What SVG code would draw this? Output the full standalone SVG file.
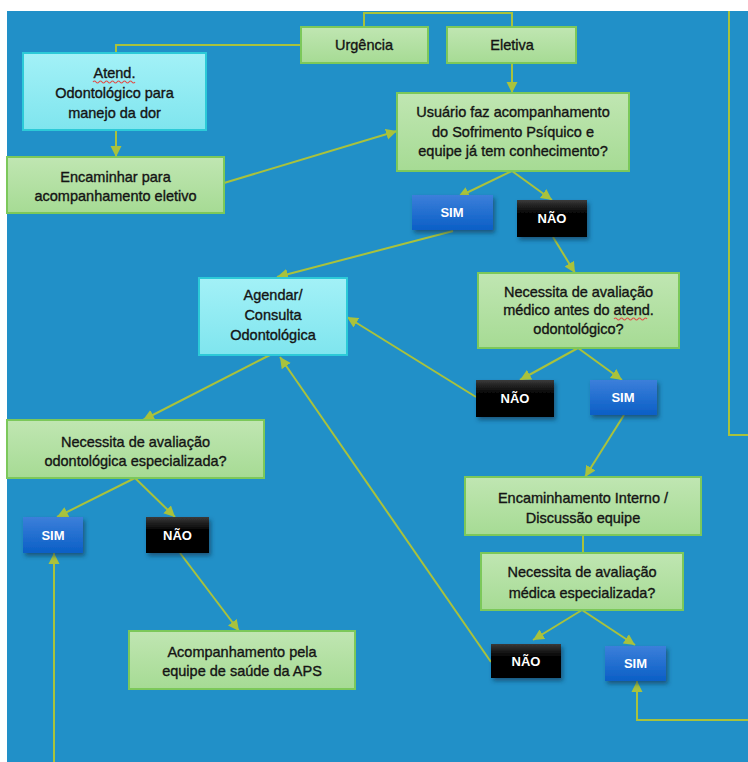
<svg xmlns="http://www.w3.org/2000/svg" width="748" height="762" viewBox="0 0 748 762">
<defs>
<style>
.g{fill:url(#gg);stroke:#7cc85a;stroke-width:2}
.c{fill:url(#cg);stroke:#2ccad8;stroke-width:2}
.s{fill:url(#sg);filter:url(#sh)}
.n{fill:url(#ng);filter:url(#sh)}
.t{font-family:"Liberation Sans",Arial,sans-serif;font-size:14.5px;fill:#141414;stroke:#141414;stroke-width:0.35;text-anchor:middle}
.w{font-family:"Liberation Sans",Arial,sans-serif;font-size:13px;font-weight:bold;fill:#ffffff;text-anchor:middle}
.l{fill:none;stroke:#a9c23c;stroke-width:2}
.a{marker-end:url(#ah)}
.sp{fill:none;stroke:#e0504a;stroke-width:1.2}
</style>
<linearGradient id="gg" x1="0" y1="0" x2="0" y2="1"><stop offset="0" stop-color="#c0e6b2"/><stop offset="1" stop-color="#a6db94"/></linearGradient>
<linearGradient id="cg" x1="0" y1="0" x2="0" y2="1"><stop offset="0" stop-color="#a3f1f7"/><stop offset="1" stop-color="#7fe5ee"/></linearGradient>
<linearGradient id="sg" x1="0" y1="0" x2="0" y2="1"><stop offset="0" stop-color="#3c7fda"/><stop offset="1" stop-color="#0a5fc6"/></linearGradient>
<linearGradient id="ng" x1="0" y1="0" x2="0" y2="1"><stop offset="0" stop-color="#3a3a3a"/><stop offset="0.35" stop-color="#050505"/><stop offset="1" stop-color="#000000"/></linearGradient>
<filter id="sh" x="-20%" y="-20%" width="150%" height="160%"><feDropShadow dx="2" dy="3" stdDeviation="2" flood-color="#0a3050" flood-opacity="0.6"/></filter>
<marker id="ah" markerUnits="userSpaceOnUse" markerWidth="12" markerHeight="12" viewBox="0 0 12 12" refX="11" refY="6" orient="auto"><path d="M0,0.5 L11,6 L0,11.5 Z" fill="#a9c23c"/></marker>
</defs>
<rect x="0" y="0" width="748" height="762" fill="#ffffff"/>
<rect x="7" y="11" width="741" height="751" fill="#2190c8"/>

<g id="connectors">
<polyline class="l" points="364,27 364,13 512,13 512,27"/>
<polyline class="l" points="300,45 116,45 116,53"/>
<line class="l a" x1="116" y1="130" x2="116" y2="157"/>
<line class="l a" x1="512" y1="63" x2="512" y2="93"/>
<line class="l a" x1="224" y1="183" x2="397" y2="131"/>
<line class="l a" x1="512" y1="171" x2="458" y2="197"/>
<line class="l a" x1="512" y1="171" x2="552" y2="200"/>
<line class="l a" x1="453" y1="231" x2="277" y2="277"/>
<line class="l a" x1="553" y1="237" x2="575" y2="273"/>
<line class="l a" x1="578" y1="348" x2="520" y2="380"/>
<line class="l a" x1="578" y1="348" x2="622" y2="380"/>
<line class="l a" x1="476" y1="397" x2="347" y2="317"/>
<line class="l a" x1="624" y1="415" x2="585" y2="477"/>
<line class="l" x1="583" y1="535" x2="583" y2="553"/>
<line class="l a" x1="582" y1="610" x2="533" y2="640"/>
<line class="l a" x1="582" y1="610" x2="635" y2="645"/>
<line class="l a" x1="491" y1="662" x2="280" y2="357"/>
<polyline class="l a" points="748,720 637,720 637,681"/>
<polyline class="l" points="729,11 729,435 748,435"/>
<line class="l a" x1="270" y1="355" x2="143" y2="420"/>
<line class="l a" x1="135" y1="478" x2="57" y2="517"/>
<line class="l a" x1="135" y1="478" x2="175" y2="517"/>
<line class="l a" x1="180" y1="553" x2="239" y2="631"/>
<line class="l a" x1="54" y1="762" x2="54" y2="553"/>
</g>

<g id="urgencia"><rect class="g" x="301" y="27" width="127" height="36"/><text class="t" x="364" y="50">Urgência</text></g>
<g id="eletiva"><rect class="g" x="447" y="27" width="129" height="36"/><text class="t" x="512" y="50">Eletiva</text></g>

<g id="atend"><rect class="c" x="23" y="53" width="183" height="77"/>
<text class="t" x="114.5" y="78">Atend.</text>
<path class="sp" d="M93,82 q1.5,-2 3,0 t3,0 t3,0 t3,0 t3,0 t3,0 t3,0 t3,0 t3,0 t3,0 t3,0 t3,0 t3,0 t3,0"/>
<text class="t" x="114.5" y="98">Odontológico para</text>
<text class="t" x="114.5" y="118">manejo da dor</text></g>

<g id="encaminhar"><rect class="g" x="7" y="157" width="217" height="56"/>
<text class="t" x="115.5" y="182">Encaminhar para</text>
<text class="t" x="115.5" y="201">acompanhamento eletivo</text></g>

<g id="usuario"><rect class="g" x="397" y="93" width="232" height="78"/>
<text class="t" x="513" y="117">Usuário faz acompanhamento</text>
<text class="t" x="513" y="137">do Sofrimento Psíquico e</text>
<text class="t" x="513" y="156">equipe já tem conhecimento?</text></g>

<g id="sim1"><rect class="s" x="412" y="195" width="81" height="35"/><text class="w" x="452" y="217">SIM</text></g>
<g id="nao1"><rect class="n" x="517" y="200" width="70" height="37"/><text class="w" x="552" y="223">NÃO</text></g>

<g id="agendar"><rect class="c" x="199" y="278" width="148" height="77"/>
<text class="t" x="273" y="300">Agendar/</text>
<text class="t" x="273" y="320">Consulta</text>
<text class="t" x="273" y="340">Odontológica</text></g>

<g id="medico"><rect class="g" x="478" y="273" width="201" height="75"/>
<text class="t" x="578.5" y="297">Necessita de avaliação</text>
<text class="t" x="578.5" y="315">médico antes do atend.</text>
<path class="sp" d="M614,319 q1.5,-2 3,0 t3,0 t3,0 t3,0 t3,0 t3,0 t3,0 t3,0 t3,0 t3,0 t3,0"/>
<text class="t" x="578.5" y="334">odontológico?</text></g>

<g id="nao2"><rect class="n" x="476" y="380" width="78" height="37"/><text class="w" x="515" y="403">NÃO</text></g>
<g id="sim2"><rect class="s" x="590" y="380" width="67" height="35"/><text class="w" x="623" y="402">SIM</text></g>

<g id="odonto-esp"><rect class="g" x="7" y="420" width="257" height="58"/>
<text class="t" x="135.5" y="447">Necessita de avaliação</text>
<text class="t" x="135.5" y="466">odontológica especializada?</text></g>

<g id="sim3"><rect class="s" x="23" y="517" width="60" height="36"/><text class="w" x="53" y="540">SIM</text></g>
<g id="nao3"><rect class="n" x="146" y="517" width="63" height="36"/><text class="w" x="177.5" y="540">NÃO</text></g>

<g id="enc-interno"><rect class="g" x="465" y="477" width="236" height="58"/>
<text class="t" x="583" y="503">Encaminhamento Interno /</text>
<text class="t" x="583" y="523">Discussão equipe</text></g>

<g id="medica-esp"><rect class="g" x="481" y="553" width="202" height="57"/>
<text class="t" x="582" y="577">Necessita de avaliação</text>
<text class="t" x="582" y="598">médica especializada?</text></g>

<g id="nao4"><rect class="n" x="491" y="644" width="70" height="34"/><text class="w" x="526" y="666">NÃO</text></g>
<g id="sim4"><rect class="s" x="605" y="646" width="61" height="35"/><text class="w" x="635.5" y="668">SIM</text></g>

<g id="acomp"><rect class="g" x="129" y="631" width="226" height="58"/>
<text class="t" x="242" y="657">Acompanhamento pela</text>
<text class="t" x="242" y="676">equipe de saúde da APS</text></g>
</svg>
